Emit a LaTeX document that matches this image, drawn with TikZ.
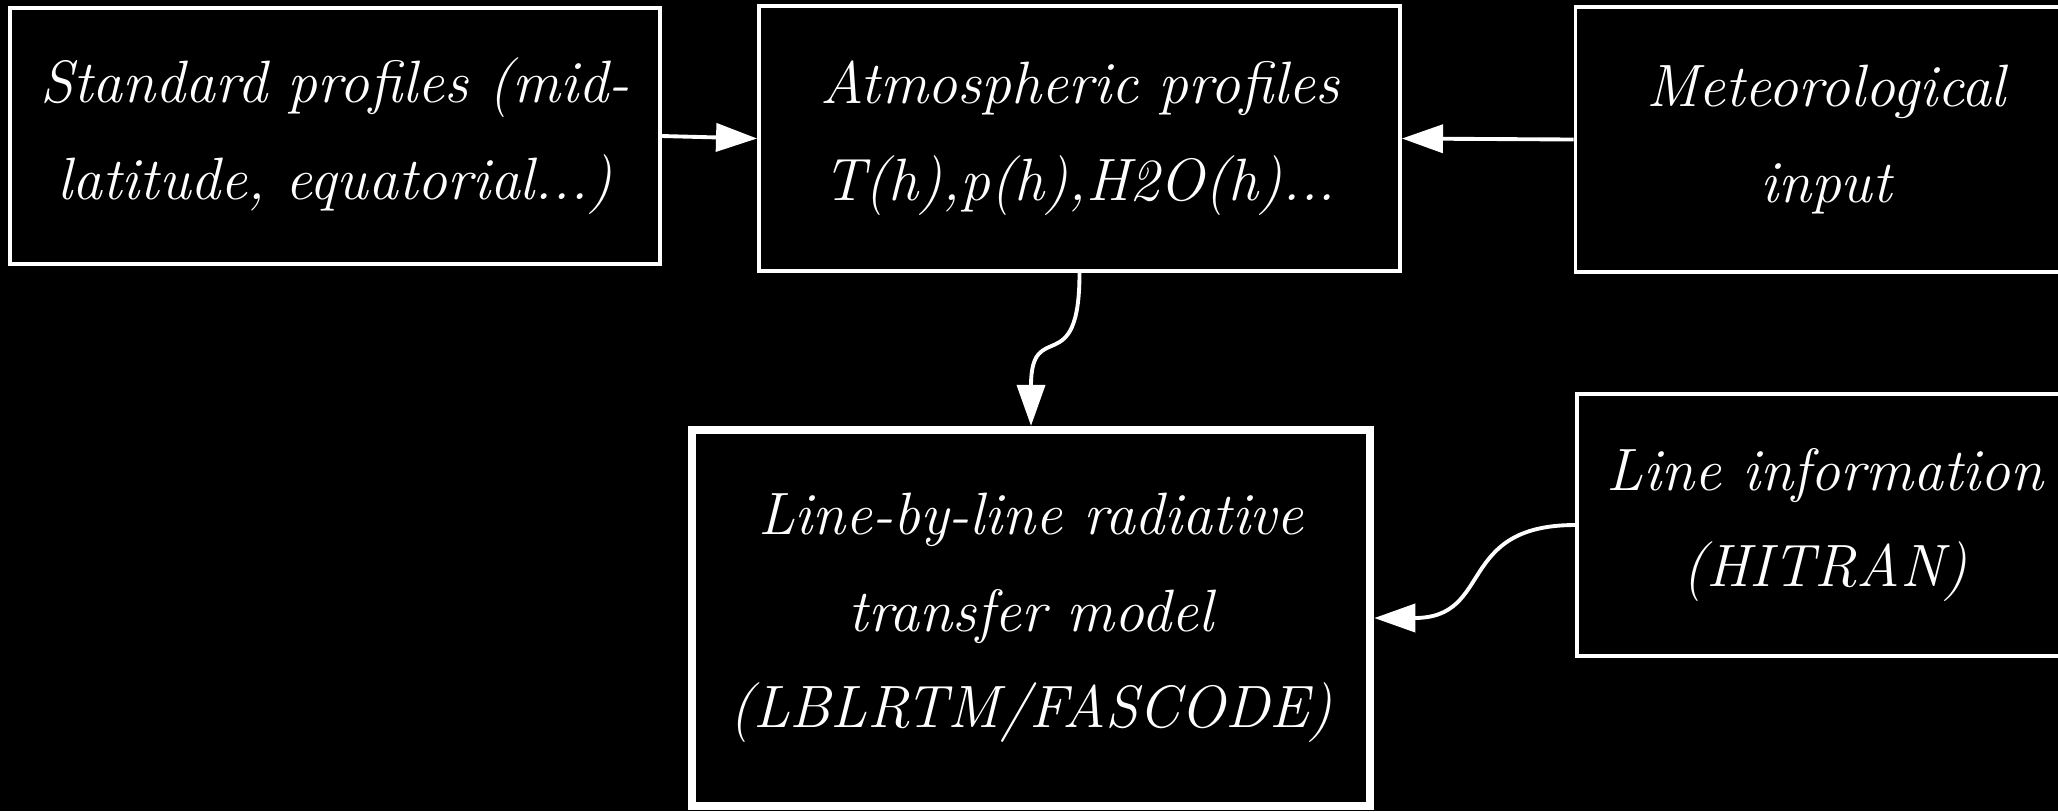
\documentclass[tikz,border=0pt]{standalone}
\usetikzlibrary{arrows.meta}
\begin{document}
\begin{tikzpicture}[x=0.01cm,y=-0.01cm,
  box/.style={draw=white,line width=1pt,text=white,align=center,inner sep=0pt,
    font=\itshape\fontsize{17}{27.5}\selectfont},
  conn/.style={draw=white,line width=1.1pt,-{Triangle[length=0.41cm,width=0.28cm]}}]
\fill[black] (0,0) rectangle (2058,811);
\useasboundingbox (0,0) rectangle (2058,811);
\node[box,minimum width=6.5cm,minimum height=2.56cm] (std) at (335,136)
  {Standard profiles (mid-\\latitude, equatorial...)};
\node[box,minimum width=6.41cm,minimum height=2.65cm] (atm) at (1079.5,138.5)
  {Atmospheric profiles\\T(h),p(h),H2O(h)...};
\node[box,minimum width=5.01cm,minimum height=2.65cm] (met) at (1826,139.5)
  {Meteorological\\input};
\node[box,line width=2.3pt,minimum width=6.78cm,minimum height=3.76cm] (lbl) at (1031,618)
  {Line-by-line radiative\\transfer model\\(LBLRTM/FASCODE)};
\node[box,minimum width=4.96cm,minimum height=2.62cm] (hit) at (1825,525)
  {Line information\\(HITRAN)};
\draw[conn] (std.east) -- (atm.west);
\draw[conn] (met.west) -- (atm.east);
\draw[conn] (atm.south) .. controls +(0,110) and +(0,-110) .. (lbl.north);
\draw[conn] (hit.west) .. controls +(-120,0) and +(120,0) .. (lbl.east);
\end{tikzpicture}
\end{document}
